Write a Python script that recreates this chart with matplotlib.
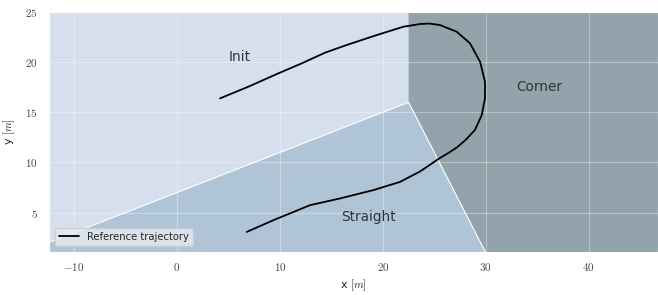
import numpy as np
import matplotlib.pyplot as plt
import seaborn as sns

sns.set_style("darkgrid")
plt.rcParams['font.family'] = ['DejaVu Sans']
plt.rcParams['mathtext.fontset'] = 'cm'

# reference trajectory
traj_x = [6.77, 9.36, 12.93, 15.84, 19.08, 21.67, 23.62, 24.91, 25.56, 26.3,
          27.2, 28.0, 28.96, 29.61, 29.93, 29.93, 29.45, 28.47, 27.18, 25.56, 24.5,
          23.62, 21.99, 19.41, 16.49, 14.38, 12.12, 9.84, 6.93, 4.18]
traj_y = [3.07, 4.24, 5.74, 6.41, 7.24, 8.06, 9.1, 10.0, 10.45, 10.9,
          11.5, 12.2, 13.25, 14.72, 16.39, 18.04, 20.04, 21.88, 23.03, 23.7, 23.85,
          23.8, 23.53, 22.7, 21.71, 20.94, 19.88, 18.88, 17.55, 16.39]

# track sections
init_x = [-20, 22.5, 22.5, -20]
init_y = [-1, 16, 30, 30]
straight_x = [-20, 22.5, 30.5, -20]
straight_y = [-1, 16, 0, 0]
corner_x = [22.5, 22.5, 30.5, 60, 60]
corner_y = [30, 16, 0, 0, 30]

labels = ["Init", "Straight", "Corner"]
label_x = [6.1, 18.6, 35.2]
label_y = [20.5, 4.55, 17.5]

fig = plt.figure(figsize=(6.58, 2.95), dpi=100)
ax = fig.add_axes([49/658, 1 - 251.7/295, 1 - 49/658, (251.7 - 12)/295])

ax.fill(init_x, init_y, color='#d6dfee', zorder=0.2, lw=0)
ax.fill(straight_x, straight_y, facecolor='#afc4d6', edgecolor='white', lw=0.8, zorder=0.3)
ax.fill(corner_x, corner_y, color='#92a3ac', zorder=0.25, lw=0)
ax.grid(True, color='white', alpha=0.35, lw=0.8)

ax.plot(traj_x, traj_y, color='black', lw=1.3, label='Reference trajectory')

for t, tx, ty in zip(labels, label_x, label_y):
    ax.text(tx, ty, t, ha='center', va='center', fontsize=9.8, color='#333333')

ax.set_xlim(-12.44, 46.74)
ax.set_ylim(1.1, 25)
ax.set_xticks([-10, 0, 10, 20, 30, 40])
ax.set_yticks([5, 10, 15, 20, 25])
ax.set_xticklabels(['$%d$' % v for v in [-10, 0, 10, 20, 30, 40]], fontsize=8, color='#444444')
ax.set_yticklabels(['$%d$' % v for v in [5, 10, 15, 20, 25]], fontsize=8, color='#444444')
ax.tick_params(axis='x', length=0, pad=7)
ax.tick_params(axis='y', length=0, pad=8)
ax.set_xlabel('x $[m]$', fontsize=8, labelpad=3)
ax.set_ylabel('y $[m]$', fontsize=8, labelpad=6)

ax.legend(loc='lower left', fontsize=7.2, frameon=True, facecolor='#e6eaf2', edgecolor='#cccccc',
          borderaxespad=0.6)

plt.savefig('out.png', dpi=100)
